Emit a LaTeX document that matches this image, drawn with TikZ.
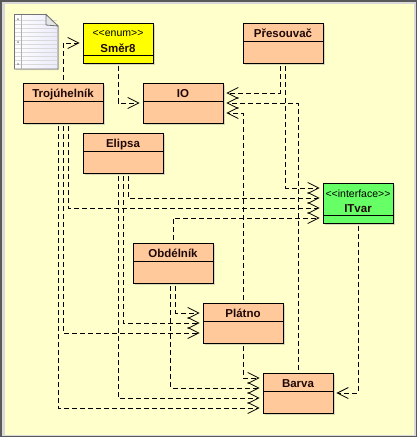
\documentclass[tikz,border=0pt]{standalone}
\usepackage{fontspec}
\setmainfont{Liberation Sans}
\usetikzlibrary{arrows.meta,shadows}
\definecolor{bgcol}{HTML}{FFFFCC}
\definecolor{classcol}{HTML}{FFC99B}
\definecolor{enumcol}{HTML}{FFFF00}
\definecolor{ifacecol}{HTML}{66FF66}
\definecolor{titlecol}{HTML}{200808}
\tikzset{
    divider/.store in=\dividerpos, divider=18pt,
    classbox/.style={draw, line width=0.9pt, fill=classcol, inner sep=0pt, text=titlecol, font=\bfseries\fontsize{11.5}{12}\selectfont,
        minimum width=80pt, text height=14pt, text depth=26pt, drop shadow={shadow xshift=2pt, shadow yshift=-2pt, opacity=0.3},
        path picture={\draw[line width=0.9pt] ([yshift=-\dividerpos]path picture bounding box.north west) -- ([yshift=-\dividerpos]path picture bounding box.north east);}},
    stereobox/.style={classbox, minimum width=70pt, text height=29pt, text depth=11pt, divider=32pt},
    stereotext/.style={anchor=center, yshift=-11pt, font=\fontsize{10.5}{11}\selectfont},
    dep/.style={draw, line width=0.8pt, dash pattern=on 5pt off 3pt, shorten <=3pt, shorten >=3pt, -{Straight Barb[length=11pt,width=11pt]}}
}
\begin{document}
\begin{tikzpicture}[x=1pt,y=-1pt]
    \useasboundingbox (0,0) rectangle (417,437);
    % frame
    \fill[black!65] (0,0) rectangle (417,437);
    \fill[black!15] (1.5,2) rectangle (415.5,435.5);
    \fill[bgcol] (5,4) rectangle (414,434.5);
    % note icon
    \draw[black!55, line width=0.8pt, left color=white, right color=black!15!blue!8, drop shadow={shadow xshift=1pt, shadow yshift=-1pt, opacity=0.3}]
        (14.5,14.5) -- (46,14.5) -- (58,26) -- (58,69) -- (14.5,69) -- cycle;
    \foreach \y in {20,24,...,66} \draw[black!15, line width=0.4pt] (15,\y) -- (57,\y);
    \draw[black!30, line width=0.5pt] (21.5,15) -- (21.5,68.5);
    \foreach \y in {19,42,64} \fill[black!45] (18,\y) circle (1pt);
    \draw[black!55, fill=black!10, line width=0.8pt] (46,14.5) -- (46,25) -- (58,26) -- cycle;
    % classes
    \node[stereobox, fill=enumcol, label={[stereotext]north:{<}{<}enum{>}{>}}] (smer) at (118,43) {Směr8};
    \node[classbox] (presouvac) at (283,43) {Přesouvač};
    \node[classbox] (trojuhelnik) at (63,103) {Trojúhelník};
    \node[classbox] (io) at (183,103) {IO};
    \node[classbox] (elipsa) at (123,153) {Elipsa};
    \node[stereobox, fill=ifacecol, label={[stereotext]north:{<}{<}interface{>}{>}}] (itvar) at (358,203) {ITvar};
    \node[classbox] (obdelnik) at (173,263) {Obdélník};
    \node[classbox] (platno) at (243,323) {Plátno};
    \node[classbox, minimum width=70pt] (barva) at (298,393) {Barva};
    % dependencies
    \draw[dep] (trojuhelnik.north) |- (smer.west);
    \draw[dep] (smer.south) |- (io.west);
    \draw[dep] ([xshift=-2.5]presouvac.south) |- ([yshift=10]io.east);
    \draw[dep] (barva.north) |- (io.east);
    \draw[dep] (platno.north) |- ([yshift=-10]io.east);
    \draw[dep] ([xshift=2.5]presouvac.south) |- ([yshift=15]itvar.west);
    \draw[dep] ([xshift=5]elipsa.south) |- ([yshift=5]itvar.west);
    \draw[dep] ([xshift=5]trojuhelnik.south) |- ([yshift=-5]itvar.west);
    \draw[dep] (obdelnik.north) |- ([yshift=-15]itvar.west);
    \draw[dep] ([xshift=2.5]obdelnik.south) |- ([yshift=10]platno.west);
    \draw[dep] (elipsa.south) |- (platno.west);
    \draw[dep] (trojuhelnik.south) |- ([yshift=-10]platno.west);
    \draw[dep] (platno.south) |- ([yshift=15]barva.west);
    \draw[dep] ([xshift=-2.5]obdelnik.south) |- ([yshift=5]barva.west);
    \draw[dep] ([xshift=-5]elipsa.south) |- ([yshift=-5]barva.west);
    \draw[dep] ([xshift=-5]trojuhelnik.south) |- ([yshift=-15]barva.west);
    \draw[dep] (itvar.south) |- (barva.east);
\end{tikzpicture}
\end{document}
